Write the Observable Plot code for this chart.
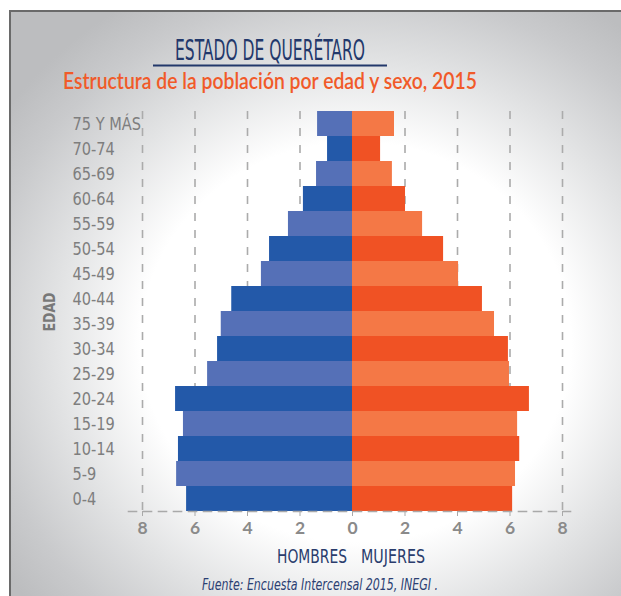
<!DOCTYPE html>
<html>
<head>
<meta charset="utf-8">
<script src="https://cdn.jsdelivr.net/npm/d3@7"></script>
<script src="https://cdn.jsdelivr.net/npm/@observablehq/plot@0.6"></script>
<style>
  body { margin: 0; background: #fff; }
  #page { position: relative; width: 621px; height: 596px; overflow: hidden; background: #fff; }
  #frame { position: absolute; left: 9px; top: 10px; width: 640px; height: 620px;
    border-left: 2px solid #6a6a6a; border-top: 2px solid #6a6a6a;
    background: radial-gradient(ellipse 430px 400px at 345px 330px, #ffffff 0%, #ffffff 50%, #e2e3e4 70%, #c9cacc 88%, #bcbdbf 100%); }
  #chart, #overlay { position: absolute; left: 0; top: 0; }
  #overlay { pointer-events: none; }
  .cond { font-family: "Liberation Sans Narrow", "DejaVu Sans Condensed", "Roboto", sans-serif; font-stretch: condensed; }
  #chart g[aria-label="y-axis tick label"] text { font-family: "Liberation Sans Narrow", "DejaVu Sans Condensed", "Roboto", sans-serif; font-stretch: condensed; }
  #chart g[aria-label="x-axis tick label"] text { font-family: "Lato", "Open Sans", sans-serif; }
</style>
</head>
<body>
<div id="page">
  <div id="frame"></div>
  <div id="chart"></div>
  <svg id="overlay" width="621" height="596"></svg>
</div>
<script>
const ages = ["75 Y MÁS","70-74","65-69","60-64","55-59","50-54","45-49","40-44","35-39","30-34","25-29","20-24","15-19","10-14","5-9","0-4"];
const hombres = [1.33,0.95,1.37,1.87,2.44,3.16,3.47,4.60,5.00,5.14,5.52,6.74,6.44,6.63,6.70,6.32];
const mujeres = [1.60,1.07,1.52,2.02,2.67,3.47,4.04,4.95,5.41,5.94,5.98,6.74,6.29,6.37,6.21,6.10];
const xTicks = [-8,-6,-4,-2,0,2,4,6,8];
const gridValues = [-8,-6,-4,-2,2,4,6,8];
const hombresColors = ["#5570b7","#2359a9"];
const mujeresColors = ["#f47846","#f05224"];

const data = ages.map((a, i) => ({age: a, h: hombres[i], m: mujeres[i], i}));

const chart = Plot.plot({
  width: 621, height: 596,
  marginTop: 111, marginBottom: 85, marginLeft: 142, marginRight: 59,
  x: {domain: [-8, 8]},
  y: {domain: ages, padding: 0},
  color: {type: "identity"},
  style: {background: "transparent", overflow: "visible"},
  marks: [
    Plot.ruleX(gridValues, {stroke: "#ababab", strokeWidth: 1.6, strokeDasharray: "8,9"}),
    Plot.barX(data, {y: "age", x1: 0, x2: d => -d.h, fill: d => hombresColors[d.i % 2]}),
    Plot.barX(data, {y: "age", x1: 0, x2: "m", fill: d => mujeresColors[d.i % 2]}),
    Plot.frame({anchor: "bottom", stroke: "#a9a9a9", strokeWidth: 1.6, strokeDasharray: "8,7", insetLeft: -14, insetRight: -8}),
    Plot.axisX({ticks: xTicks, tickFormat: d => Math.abs(d), tickSize: 5, tickPadding: 5, stroke: "#a9a9a9", fill: "#8a8a8a", fontSize: 17.5, fontWeight: "bold", label: null}),
    Plot.axisY({tickSize: 0, tickPadding: 0, textAnchor: "start", dx: -70, fill: "#7e7e7e", fontSize: 18, label: null})
  ]
});
document.getElementById("chart").appendChild(chart);

// narrow the y tick labels to match the condensed face of the original
chart.querySelectorAll('g[aria-label="y-axis tick label"] text').forEach(t => {
  const w = t.getComputedTextLength();
  t.setAttribute("textLength", (w * 0.9).toFixed(1));
  t.setAttribute("lengthAdjust", "spacingAndGlyphs");
});

const ov = d3.select("#overlay");
function txt(x, y, s, opts) {
  const t = ov.append("text").attr("x", x).attr("y", y).text(s)
    .attr("text-anchor", "middle")
    .attr("font-size", opts.size).attr("fill", opts.fill)
    .attr("textLength", opts.len).attr("lengthAdjust", "spacingAndGlyphs");
  if (opts.cls) t.attr("class", opts.cls);
  if (opts.family) t.attr("font-family", opts.family);
  if (opts.weight) t.attr("font-weight", opts.weight);
  if (opts.style) t.attr("font-style", opts.style);
  if (opts.transform) t.attr("transform", opts.transform);
  return t;
}
const navy = "#22386b";
txt(270, 60, "ESTADO DE QUERÉTARO", {size: 29, fill: navy, len: 190, cls: "cond"});
ov.append("line").attr("x1", 153).attr("x2", 387).attr("y1", 65.5).attr("y2", 65.5).attr("stroke", navy).attr("stroke-width", 2);
txt(270, 89, "Estructura de la población por edad y sexo, 2015", {size: 22.5, fill: "#f15a29", len: 414, family: "Lato, 'Open Sans', sans-serif", weight: 600});
txt(0, 0, "EDAD", {size: 16, fill: "#787878", len: 39, cls: "cond", weight: "bold", transform: "translate(55,312) rotate(-90)"});
txt(312, 563, "HOMBRES", {size: 20, fill: "#2a3d6d", len: 70, cls: "cond"});
txt(393, 563, "MUJERES", {size: 20, fill: "#2a3d6d", len: 64, cls: "cond"});
txt(320, 590, "Fuente: Encuesta Intercensal 2015,  INEGI .", {size: 16, fill: "#2b3f73", len: 236, cls: "cond", style: "italic"});
</script>
</body>
</html>
